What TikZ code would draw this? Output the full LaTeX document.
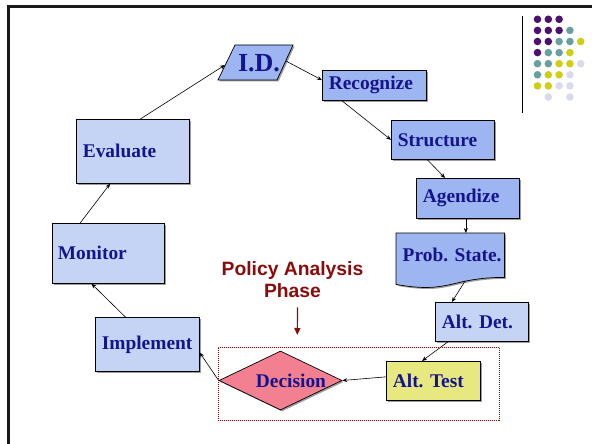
\documentclass[tikz,border=0pt]{standalone}
\usepackage{fontspec}
\setmainfont{Liberation Serif}
\newfontfamily\phasefont{Liberation Sans}
\usetikzlibrary{shapes.geometric,shadows,calc,arrows.meta,backgrounds}

\definecolor{stageblue}{RGB}{157,181,240}
\definecolor{paleblue}{RGB}{197,212,245}
\definecolor{testyellow}{RGB}{232,232,128}
\definecolor{decpink}{RGB}{242,128,145}
\definecolor{labelblue}{RGB}{20,20,140}
\definecolor{phasered}{RGB}{140,10,10}
\definecolor{dotpurple}{RGB}{75,16,112}
\definecolor{dotteal}{RGB}{104,160,160}
\definecolor{dotyellow}{RGB}{206,206,20}
\definecolor{dotlav}{RGB}{218,218,238}

\begin{document}
\begin{tikzpicture}[x=1pt,y=-1pt,
  shade/.style={drop shadow={shadow xshift=1.5pt,shadow yshift=-1.5pt,fill=black!55,opacity=0.7}},
  labeltext/.style={text=labelblue,font=\fontsize{19.4}{22}\selectfont\bfseries},
  stage/.style={labeltext,draw=black,line width=0.7pt,shade,anchor=north west,
    inner xsep=6.5pt,inner ysep=0pt,align=left,
    execute at begin node={\hyphenpenalty=10000\relax}},
  conn/.style={-{Stealth[length=5pt,width=4pt]},line width=0.6pt,black}
]
\useasboundingbox (0,0) rectangle (592,444);

% slide frame and corner ornament
\draw[line width=3pt,black!90] (8.5,444) -- (8.5,7) -- (592,7);
\draw[line width=1pt] (522,16) -- (522,113);
\foreach \c/\r/\col in {
  0/0/dotpurple,1/0/dotpurple,2/0/dotpurple,
  0/1/dotpurple,1/1/dotpurple,2/1/dotpurple,3/1/dotteal,
  0/2/dotpurple,1/2/dotpurple,2/2/dotteal,3/2/dotteal,4/2/dotyellow,
  0/3/dotpurple,1/3/dotteal,2/3/dotteal,3/3/dotyellow,
  0/4/dotteal,1/4/dotteal,2/4/dotyellow,3/4/dotyellow,4/4/dotlav,
  0/5/dotteal,1/5/dotyellow,2/5/dotyellow,3/5/dotlav,
  0/6/dotyellow,1/6/dotyellow,2/6/dotlav,3/6/dotlav,
  1/7/dotlav,3/7/dotlav}
  \fill[\col] (537.5+10.8*\c,19.3+11.1*\r) circle[radius=3.8];

% policy-cycle stages
\node[labeltext,inner sep=0pt,minimum width=58pt,minimum height=35pt,
      font=\fontsize{26}{28}\selectfont\bfseries] (id) at (259,63) {I.D.};
\begin{scope}[on background layer]
  \draw[fill=stageblue,line width=0.7pt,shade]
    ($(id.center)+(-24,-18)$) -- ($(id.center)+(34,-18)$) --
    ($(id.center)+(18,17)$) -- ($(id.center)+(-41,17)$) -- cycle;
\end{scope}

\node[stage,fill=stageblue,text width=91pt,minimum height=30pt] (rec) at (322,70) {Recognize};
\node[stage,fill=stageblue,text width=90pt,minimum height=39pt] (str) at (391,120) {Structure};
\node[stage,fill=stageblue,text width=90pt,minimum height=40pt] (agd) at (416,178) {Agendize};

\node[labeltext,anchor=north west,inner xsep=6.5pt,inner ysep=0pt,align=left,
      text width=95pt,minimum height=44pt] (prob) at (396,233) {Prob.~State.};
\begin{scope}[on background layer]
  \draw[fill=stageblue,line width=0.7pt,shade]
    (prob.north west) -- (prob.north east) -- (prob.south east)
    .. controls (prob.south) and ($(prob.south)+(0,16.8)$) ..
    ($(prob.south west)+(0,7)$) -- cycle;
\end{scope}

\node[stage,fill=paleblue,text width=80pt,minimum height=39pt] (det) at (435,302) {Alt.~Det.};
\node[stage,fill=testyellow,text width=81pt,minimum height=39pt] (tst) at (386,361) {Alt.~Test};

\node[diamond,draw=black,line width=0.7pt,fill=decpink,shade,inner sep=0pt,
      minimum width=123pt,minimum height=59pt] (dec) at (280.5,380.5) {};
\node[labeltext,inner sep=0pt] (dectxt) at (291,381) {Decision};

\node[stage,fill=paleblue,text width=91pt,minimum height=54pt] (imp) at (95,317) {Implement};
\node[stage,fill=paleblue,text width=101pt,minimum height=60pt,inner xsep=5.5pt] (mon) at (52,223) {Monitor};
\node[stage,fill=paleblue,text width=100pt,minimum height=64pt] (evl) at (76,119) {Evaluate};

% policy analysis phase
\node[draw=phasered,line width=0.8pt,dash pattern=on 1pt off 1pt,inner sep=0pt,
      anchor=north west,minimum width=281pt,minimum height=73pt] (phase) at (218,347) {};
\node[text=phasered,align=center,inner sep=0pt,
      font=\phasefont\fontsize{19.3}{22}\selectfont\bfseries] (pol) at (292.5,280) {Policy Analysis\\Phase};
\draw[phasered,line width=1.2pt,-{Triangle[length=7pt,width=6pt]}]
  ($(pol.south)+(5,9)$) -- ($(phase.north west)+(79.3,-12)$);

% connectors around the cycle
\draw[conn] ($(evl.north west)!0.566!(evl.north east)$) -- ($(id.center)+(-34,2)$);
\draw[conn] ($(id.center)+(27,-2)$) -- ($(rec.north west)!0.33!(rec.south west)$);
\draw[conn] ($(rec.south west)!0.19!(rec.south east)$) -- (str.west);
\draw[conn] ($(str.south west)!0.35!(str.south east)$) -- ($(agd.north west)!0.28!(agd.north east)$);
\draw[conn] ($(agd.south)+(-2,0)$) coordinate (agdfoot) -- (agdfoot |- prob.north);
\draw[conn] ($(prob.south)+(15,3.5)$) -- ($(det.north west)!0.18!(det.north east)$);
\draw[conn] ($(det.south west)!0.14!(det.south east)$) -- ($(tst.north west)!0.38!(tst.north east)$);
\draw[conn] ($(tst.west)+(0,-4)$) -- (dec.east);
\draw[conn] (dec.west) -- ($(imp.north east)!0.65!(imp.south east)$);
\draw[conn] ($(imp.north west)!0.29!(imp.north east)$) -- ($(mon.south west)!0.35!(mon.south east)$);
\draw[conn] ($(mon.north west)!0.25!(mon.north east)$) -- ($(evl.south west)!0.3!(evl.south east)$);
\end{tikzpicture}
\end{document}
